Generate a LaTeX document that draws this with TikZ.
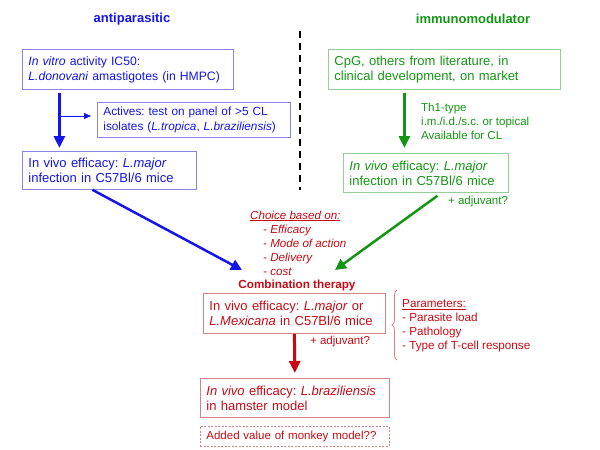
\documentclass[tikz,border=0pt]{standalone}
\usepackage{fontspec}
\setmainfont{Liberation Sans}
\usetikzlibrary{arrows.meta,decorations.pathreplacing}

\definecolor{apblue}{RGB}{20,20,235}
\definecolor{apline}{RGB}{135,135,225}
\definecolor{imgreen}{RGB}{20,150,20}
\definecolor{imline}{RGB}{150,205,150}
\definecolor{ctred}{RGB}{200,10,20}
\definecolor{ctline}{RGB}{215,130,130}

\tikzset{
    box/.style={draw, line width=0.8pt, anchor=north west, inner xsep=6pt, inner ysep=2pt,
        align=left, font=\fontsize{13}{15}\selectfont},
    note/.style={anchor=west, inner sep=0pt, align=left, font=\fontsize{11.5}{14}\selectfont},
    bigarrow/.style={line width=3pt, -{Triangle[length=12pt,width=11pt]}},
    slantarrow/.style={line width=2.5pt, -{Triangle[length=11pt,width=11pt]}},
}

\begin{document}
\frenchspacing
\begin{tikzpicture}[x=1pt,y=-1pt]
    \useasboundingbox (0,0) rectangle (600,450);

    % Headings
    \node[apblue, font=\bfseries\fontsize{13}{15}\selectfont] (aphead) at (132,19) {antiparasitic};
    \node[imgreen, font=\bfseries\fontsize{13}{15}\selectfont] (imhead) at (473,19) {immunomodulator};

    % Divider
    \coordinate (divtop) at (300,31);
    \coordinate (divbot) at (300,190);
    \draw[line width=1.5pt, dash pattern=on 7pt off 5pt] (divtop) -- (divbot);

    % Antiparasitic branch
    \node[box, draw=apline, text=apblue, text width=203pt, inner xsep=4pt, minimum height=40pt,
        font=\fontsize{12.2}{15}\selectfont] (bsrc) at (22,49)
        {\hspace*{2pt}\textit{In vitro} activity IC50:\\\hspace*{2pt}\textit{L.donovani} amastigotes (in HMPC)};
    \node[box, draw=apline, text=apblue, text width=181pt, minimum height=35pt,
        font=\fontsize{11.8}{15}\selectfont] (actives) at (97,102)
        {Actives: test on panel of >5 CL\\isolates (\textit{L.tropica}, \textit{L.braziliensis})};
    \node[box, draw=apline, text=apblue, text width=162pt, minimum height=38pt] (bvivo) at (22,151)
        {In vivo efficacy: \textit{L.major}\\infection in C57Bl/6 mice};

    % Immunomodulator branch
    \node[box, draw=imline, text=imgreen, text width=220pt, minimum height=40pt] (gsrc) at (328,49)
        {CpG, others from literature, in\\clinical development, on market};
    \node[note, imgreen] (gnote) at (421,121) {Th1-type\\i.m./i.d./s.c. or topical\\Available for CL};
    \node[box, draw=imline, text=imgreen, text width=153pt, minimum height=39pt] (gvivo) at (343,153)
        {\textit{In vivo} efficacy: \textit{L.major}\\infection in C57Bl/6 mice};
    \node[note, imgreen] (gadj) at (448,202) {+ adjuvant?};

    % Choice
    \node[note, ctred, font=\itshape\fontsize{11.6}{14}\selectfont] (choice) at (250,243)
        {\underline{Choice based on:}\\\hspace*{13pt}- Efficacy\\\hspace*{13pt}- Mode of action\\
         \hspace*{13pt}- Delivery\\\hspace*{13pt}- cost};
    \node[ctred, font=\bfseries\fontsize{11.7}{14}\selectfont] (combo) at (297,285) {Combination therapy};

    % Combination branch
    \node[box, draw=ctline, text=ctred, text width=170pt, minimum height=40pt] (rcomb) at (203,293)
        {In vivo efficacy: \textit{L.major} or\\\textit{L.Mexicana} in C57Bl/6 mice};
    \node[note, ctred] (radj) at (310,342) {+ adjuvant?};
    \node[box, draw=ctline, text=ctred, text width=177pt, minimum height=39pt] (rbraz) at (200,378)
        {\textit{In vivo} efficacy: \textit{L.braziliensis}\\in hamster model};
    \node[box, draw=ctline, text=ctred, text width=177pt, minimum height=20pt, inner ysep=1pt,
        dash pattern=on 2pt off 1.5pt, font=\fontsize{11.5}{13}\selectfont] (rmonkey) at (200,426)
        {Added value of monkey model??};

    % Parameters
    \coordinate (bracelow) at (397,360);
    \coordinate (bracehigh) at (397,290);
    \draw[ctline, line width=0.8pt, decorate, decoration={brace,amplitude=5pt}] (bracelow) -- (bracehigh);
    \node[note, ctred, font=\fontsize{11.7}{14}\selectfont] (params) at (402,326)
        {\underline{Parameters:}\\- Parasite load\\- Pathology\\- Type of T-cell response};

    % Arrows
    \coordinate (bfork) at (59,116);
    \coordinate (btip) at (242,270);
    \coordinate (gtip) at (335,270);
    \draw[apblue, bigarrow, shorten <=3pt, shorten >=3pt] ([xshift=-68.5pt]bsrc.south) -- ([xshift=-50pt]bvivo.north);
    \draw[apblue, line width=0.8pt, -{Triangle[length=7pt,width=6pt]}, shorten >=6pt] (bfork) -- (bfork -| actives.west);
    \draw[apblue, slantarrow] ([xshift=-17pt]bvivo.south) -- (btip);
    \draw[imgreen, bigarrow, shorten <=3pt, shorten >=5pt] ([xshift=-40pt]gsrc.south) -- ([xshift=-21.5pt]gvivo.north);
    \draw[imgreen, slantarrow] ([xshift=11.5pt,yshift=-3pt]gvivo.south) -- (gtip);
    \draw[ctred, bigarrow, shorten >=5pt] (rcomb.south) -- (rbraz.north);
\end{tikzpicture}
\end{document}
